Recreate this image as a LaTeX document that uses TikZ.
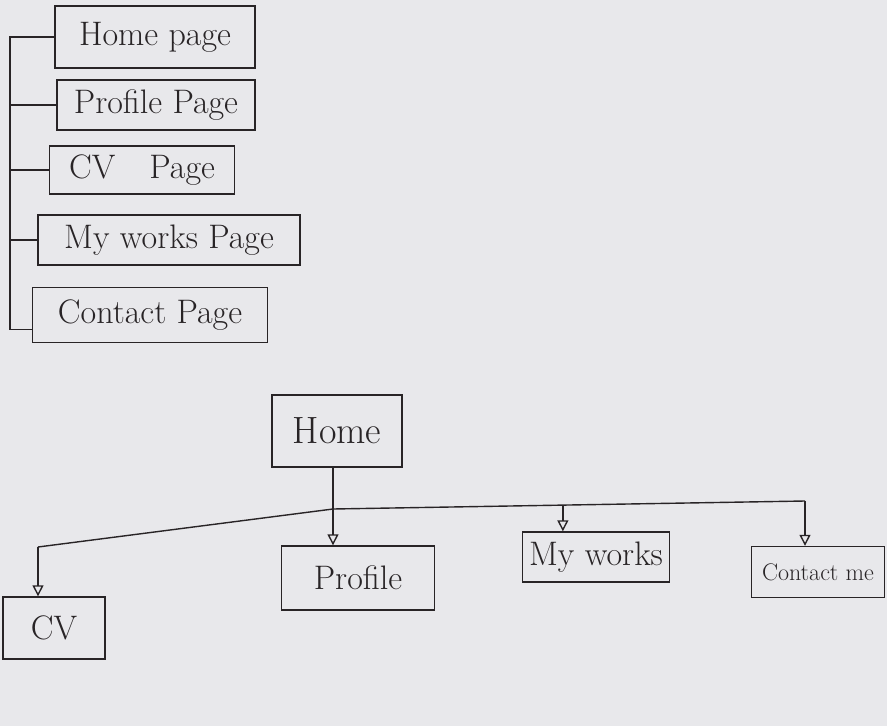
\documentclass[tikz,border=0pt]{standalone}
\usepackage{fontspec}
\usetikzlibrary{arrows.meta,positioning,calc}
\definecolor{paper}{RGB}{232,232,235}
\definecolor{pen}{RGB}{40,36,38}
\begin{document}
\begin{tikzpicture}[
        x=1pt, y=-1pt,
        box/.style={draw=pen, line width=1.4pt, inner sep=0pt, text=pen, font=\fontsize{34}{38}\selectfont},
        link/.style={draw=pen, line width=1.4pt},
        arrow/.style={link, -{Triangle[open, length=11pt, width=11pt]}},
    ]
        % Paper
        \fill[paper] (0,0) rectangle (887,726);
        \useasboundingbox (0,0) rectangle (887,726);

        % Page list
        \foreach \name/\x/\y/\w/\h/\text in {
            homepg/155/37/200/62/Home page,
            profilepg/156/105/198/50/Profile Page,
            cvpg/142/170/185/48/CV\hspace{1em}Page,
            workspg/169/240/262/50/My works Page,
            contactpg/150/315/235/55/Contact Page
        } {
            \node[box, minimum width=\w pt, minimum height=\h pt] (\name) at (\x,\y) {\text};
        }

        % Bracket
        \coordinate (spine) at (10,0);
        \draw[link] (homepg.west) -| ($(spine |- contactpg.south west)+(0,-14)$) -- ($(contactpg.south west)+(0,-14)$);
        \foreach \name in {profilepg, cvpg, workspg}
            \draw[link] (\name.west) -- (spine |- \name.west);

        % Site tree
        \node[box, minimum width=130pt, minimum height=72pt, font=\fontsize{38}{42}\selectfont] (home) at (337,431) {Home};
        \node[box, minimum width=153pt, minimum height=64pt] (profile) at (358,578) {Profile};
        \node[box, minimum width=102pt, minimum height=62pt] (cv) at (54,628) {CV};
        \node[box, minimum width=147pt, minimum height=50pt] (works) at (596,557) {My works};
        \node[box, minimum width=133pt, minimum height=51pt, font=\fontsize{24}{28}\selectfont] (contact) at (818,572) {Contact me};

        % Bus
        \coordinate (busl) at (38,547);
        \coordinate (busm) at (333,509);
        \coordinate (busr) at (805,501);
        \coordinate (worksdrop) at ($(busm)!0.487!(busr)$);
        \draw[link] (busl) -- (busm) -- (busr);

        % Arrows
        \draw[arrow] ([xshift=-4pt]home.south) -- ([xshift=-4pt]home.south |- profile.north);
        \draw[arrow] (busl) -- (busl |- cv.north);
        \draw[arrow] (worksdrop) -- (worksdrop |- works.north);
        \draw[arrow] (busr) -- (busr |- contact.north);
    \end{tikzpicture}
\end{document}
